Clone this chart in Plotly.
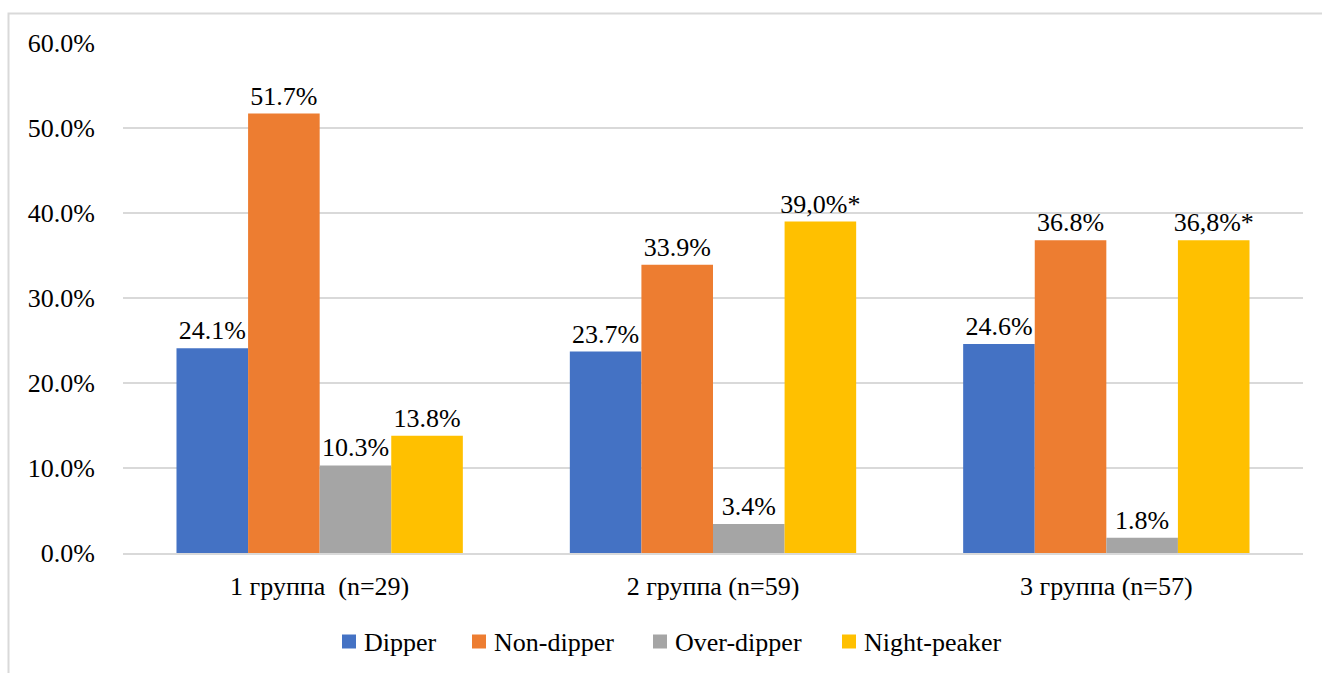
import plotly.graph_objects as go

groups = ["1 группа  (n=29)", "2 группа (n=59)", "3 группа (n=57)"]
series = ["Dipper", "Non-dipper", "Over-dipper", "Night-peaker"]
colors = ["#4472C4", "#ED7D31", "#A5A5A5", "#FFC000"]

dipper = [24.1, 23.7, 24.6]
non_dipper = [51.7, 33.9, 36.8]
over_dipper = [10.3, 3.4, 1.8]
night_peaker = [13.8, 39.0, 36.8]

# labels for night-peaker carry the significance mark
night_peaker_labels = ["13.8%", "39,0%*", "36,8%*"]

values = [dipper, non_dipper, over_dipper, night_peaker]

FONT = "Liberation Serif"
FS = 26
W, H = 1322, 673
ML, MR, MT, MB = 123, 19, 43, 120
PW, PH = W - ML - MR, H - MT - MB


def px_x(p):
    return (p - ML) / PW


def px_y(p):
    return (H - MB - p) / PH


fig = go.Figure()
for name, vals, col in zip(series, values, colors):
    if name == "Night-peaker":
        labels = night_peaker_labels
    else:
        labels = [f"{v:.1f}%" for v in vals]
    fig.add_trace(go.Bar(
        name=name, x=groups, y=vals, marker=dict(color=col, line=dict(width=0)),
        text=labels, textposition="outside", cliponaxis=False, constraintext="none",
        textfont=dict(family=FONT, size=FS, color="#000000"),
        showlegend=False,
    ))

# legend row: colour square followed by the series name
legend_left = [342, 472, 653, 842]
shapes = [dict(type="rect", xref="paper", yref="paper",
               x0=px_x(8.5), x1=px_x(1341), y0=px_y(700), y1=px_y(13.5),
               line=dict(color="#D9D9D9", width=2), fillcolor="rgba(0,0,0,0)", layer="below")]
annotations = []
for name, col, lx in zip(series, colors, legend_left):
    shapes.append(dict(type="rect", xref="paper", yref="paper",
                       x0=px_x(lx), x1=px_x(lx + 14), y0=px_y(648.5), y1=px_y(634.5),
                       line=dict(width=0), fillcolor=col))
    annotations.append(dict(text=name, xref="paper", yref="paper",
                            x=px_x(lx + 20), y=px_y(642), xanchor="left", yanchor="middle",
                            showarrow=False, font=dict(family=FONT, size=FS, color="#000000")))

fig.update_layout(
    width=W, height=H,
    margin=dict(l=ML, r=MR, t=MT, b=MB, autoexpand=False),
    paper_bgcolor="white", plot_bgcolor="white",
    barmode="group", bargap=0.272, bargroupgap=0.0,
    font=dict(family=FONT, size=FS, color="#000000"),
    showlegend=False,
    shapes=shapes, annotations=annotations,
)
fig.update_yaxes(range=[0, 60], dtick=10, tickformat=".1f", ticksuffix="%",
                 showgrid=True, gridcolor="#D9D9D9", gridwidth=2, zeroline=False,
                 showline=False, ticks="outside", ticklen=22, tickcolor="rgba(0,0,0,0)",
                 automargin=False,
                 tickfont=dict(family=FONT, size=FS, color="#000000"))
fig.update_xaxes(showline=True, linecolor="#D9D9D9", linewidth=2, showgrid=False,
                 ticks="outside", ticklen=9, tickcolor="rgba(0,0,0,0)",
                 automargin=False,
                 tickfont=dict(family=FONT, size=FS, color="#000000"))

fig.write_html("out.html")
